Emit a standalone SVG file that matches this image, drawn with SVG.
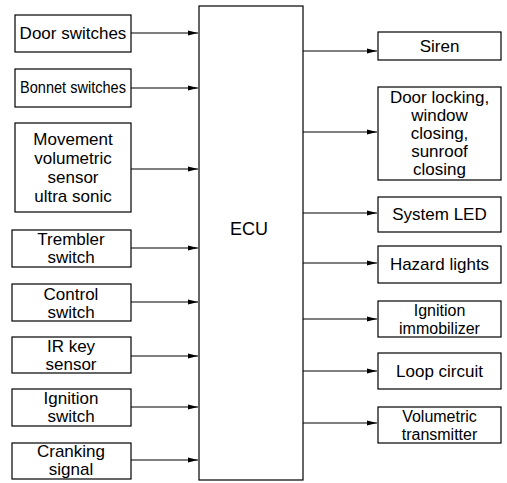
<svg xmlns="http://www.w3.org/2000/svg" width="507" height="483" viewBox="0 0 507 483">
<style>
.box{fill:#fff;stroke:#000;stroke-width:1.2}
.t{font-family:"Liberation Sans",Arial,sans-serif;font-size:17px;fill:#000;text-anchor:middle}
.s{font-size:16px}
.c{stroke:#000;stroke-width:1.2;fill:none}
</style>
<defs>
<marker id="ah" markerUnits="userSpaceOnUse" markerWidth="11" markerHeight="6" refX="10" refY="3" orient="auto">
<path d="M0,0.6 L10,3 L0,5.4 Z" fill="#000"/>
</marker>
</defs>
<rect width="507" height="483" fill="#fff"/>
<g id="ecu">
<rect class="box" x="199" y="6" width="104" height="474"/>
<text class="t" x="249" y="235" style="font-size:18px">ECU</text>
</g>
<g id="door-switches">
<rect class="box" x="15" y="15" width="116" height="37"/>
<text class="t" x="73" y="39">Door switches</text>
</g>
<g id="bonnet-switches">
<rect class="box" x="15" y="69" width="116" height="38"/>
<text class="t" x="73" y="93" textLength="106" lengthAdjust="spacingAndGlyphs">Bonnet switches</text>
</g>
<g id="movement-sensor">
<rect class="box" x="15" y="123" width="116" height="89"/>
<text class="t" x="73" y="145">Movement</text>
<text class="t" x="73" y="164">volumetric</text>
<text class="t" x="73" y="183">sensor</text>
<text class="t" x="73" y="202">ultra sonic</text>
</g>
<g id="trembler-switch">
<rect class="box" x="12" y="230" width="119" height="37"/>
<text class="t" x="71" y="245">Trembler</text>
<text class="t" x="71" y="263">switch</text>
</g>
<g id="control-switch">
<rect class="box" x="12" y="284" width="119" height="37"/>
<text class="t" x="71" y="300">Control</text>
<text class="t" x="71" y="318">switch</text>
</g>
<g id="ir-key-sensor">
<rect class="box" x="12" y="337" width="119" height="36"/>
<text class="t" x="71" y="352">IR key</text>
<text class="t" x="71" y="370">sensor</text>
</g>
<g id="ignition-switch">
<rect class="box" x="12" y="389" width="119" height="37"/>
<text class="t" x="71" y="404">Ignition</text>
<text class="t" x="71" y="422">switch</text>
</g>
<g id="cranking-signal">
<rect class="box" x="12" y="443" width="119" height="36"/>
<text class="t" x="71" y="457">Cranking</text>
<text class="t" x="71" y="475">signal</text>
</g>
<g id="siren">
<rect class="box" x="378" y="32" width="123" height="28"/>
<text class="t" x="439.5" y="52">Siren</text>
</g>
<g id="door-locking">
<rect class="box" x="378" y="87" width="123" height="93"/>
<text class="t" x="439.5" y="103">Door locking,</text>
<text class="t" x="439.5" y="121">window</text>
<text class="t" x="439.5" y="139">closing,</text>
<text class="t" x="439.5" y="157">sunroof</text>
<text class="t" x="439.5" y="175">closing</text>
</g>
<g id="system-led">
<rect class="box" x="378" y="197" width="123" height="35"/>
<text class="t" x="439.5" y="220">System LED</text>
</g>
<g id="hazard-lights">
<rect class="box" x="378" y="246" width="123" height="37"/>
<text class="t" x="439.5" y="270">Hazard lights</text>
</g>
<g id="ignition-immobilizer">
<rect class="box" x="378" y="301" width="123" height="36"/>
<text class="t s" x="439.5" y="316">Ignition</text>
<text class="t s" x="439.5" y="334">immobilizer</text>
</g>
<g id="loop-circuit">
<rect class="box" x="378" y="353" width="123" height="36"/>
<text class="t" x="439.5" y="377">Loop circuit</text>
</g>
<g id="volumetric-transmitter">
<rect class="box" x="378" y="407" width="123" height="36"/>
<text class="t s" x="439.5" y="422">Volumetric</text>
<text class="t s" x="439.5" y="440">transmitter</text>
</g>
<g id="connectors">
<line class="c" x1="131" y1="33" x2="198" y2="33" marker-end="url(#ah)"/>
<line class="c" x1="131" y1="88" x2="198" y2="88" marker-end="url(#ah)"/>
<line class="c" x1="131" y1="169" x2="198" y2="169" marker-end="url(#ah)"/>
<line class="c" x1="131" y1="248" x2="198" y2="248" marker-end="url(#ah)"/>
<line class="c" x1="131" y1="302" x2="198" y2="302" marker-end="url(#ah)"/>
<line class="c" x1="131" y1="356" x2="198" y2="356" marker-end="url(#ah)"/>
<line class="c" x1="131" y1="407" x2="198" y2="407" marker-end="url(#ah)"/>
<line class="c" x1="131" y1="460" x2="198" y2="460" marker-end="url(#ah)"/>
<line class="c" x1="303" y1="51" x2="377" y2="51" marker-end="url(#ah)"/>
<line class="c" x1="303" y1="132" x2="377" y2="132" marker-end="url(#ah)"/>
<line class="c" x1="303" y1="213" x2="377" y2="213" marker-end="url(#ah)"/>
<line class="c" x1="303" y1="263" x2="377" y2="263" marker-end="url(#ah)"/>
<line class="c" x1="303" y1="319" x2="377" y2="319" marker-end="url(#ah)"/>
<line class="c" x1="303" y1="371" x2="377" y2="371" marker-end="url(#ah)"/>
<line class="c" x1="303" y1="423" x2="377" y2="423" marker-end="url(#ah)"/>
</g>
</svg>
